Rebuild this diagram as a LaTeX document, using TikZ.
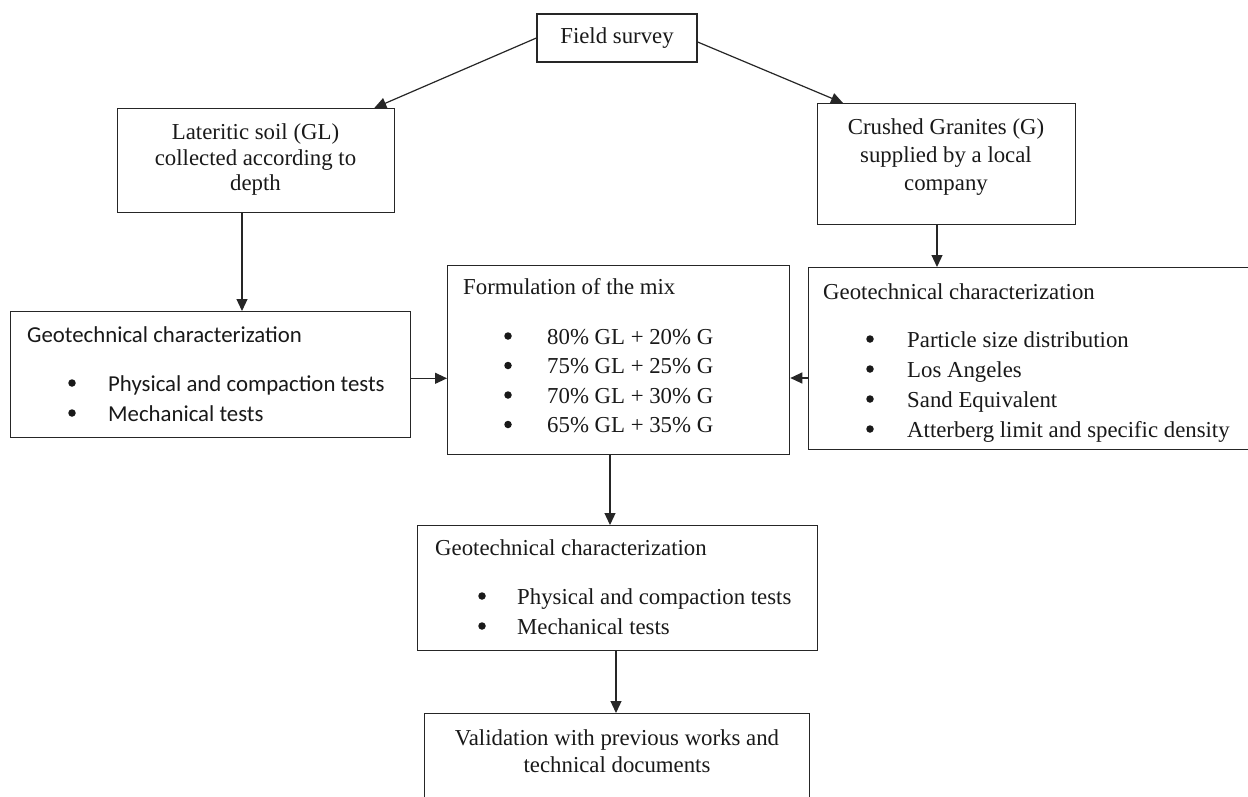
\documentclass[tikz,border=0pt]{standalone}
\usepackage{fontspec}
\setmainfont{Liberation Serif}
\newfontfamily\calfont{Carlito}
\usetikzlibrary{arrows.meta,calc}
\begin{document}
\begin{tikzpicture}[x=1pt,y=-1pt,
  box/.style={draw=black!85, line width=1.3pt, inner sep=0pt, anchor=north west},
  txt/.style={inner sep=0pt, text=black!90, font=\fontsize{22.8}{26}\selectfont, anchor=base west},
  ctr/.style={txt, anchor=base},
  ctxt/.style={txt, font=\calfont\fontsize{22.8}{28}\selectfont},
  bul/.style={circle, fill=black!90, inner sep=0pt, minimum size=7.5pt},
  arr/.style={draw=black!85, line width=1.2pt, -{Triangle[length=12pt,width=11pt]}},
]
\clip (0,0) rectangle (1248,796);
\fill[white] (0,0) rectangle (1248,796);

% boxes
\node[box, minimum width=160pt, minimum height=48pt, txt, anchor=center] (fs) at (617,38) {Field survey};
\node[box, minimum width=277pt, minimum height=104pt] (lat) at (117,108) {};
\node[box, minimum width=258pt, minimum height=121pt] (cg) at (817,103) {};
\node[box, minimum width=400pt, minimum height=126pt] (lg) at (10,311) {};
\node[box, minimum width=342pt, minimum height=189pt] (fm) at (447,265) {};
\node[box, minimum width=460pt, minimum height=182pt] (rg) at (808,267) {};
\node[box, minimum width=400pt, minimum height=125pt] (mg) at (417,525) {};
\node[box, minimum width=385pt, minimum height=100pt] (val) at (424,713) {};

% centred texts
\node[ctr] (lat1) at (255.5,139) {Lateritic soil (GL)};
\node[ctr] (lat2) at (255.5,165) {collected according to};
\node[ctr] (lat3) at (255.5,190) {depth};
\node[ctr] (cg1) at (946,134) {Crushed Granites (G)};
\node[ctr] (cg2) at (946,162) {supplied by a local};
\node[ctr] (cg3) at (946,190) {company};
\node[ctr] (val1) at (617,745) {Validation with previous works and};
\node[ctr] (val2) at (617,772) {technical documents};

% left geotechnical (Calibri)
\node[ctxt] (lgt) at (27,342) {Geotechnical characterization};
\foreach \t [count=\i] in {Physical and compaction tests, Mechanical tests}{
  \node[bul] (lgb\i) at (72,{383+30*(\i-1)}) {};
  \node[ctxt] (lgl\i) at (108,{391+30*(\i-1)}) {\t};
}

% formulation
\node[txt] (fmt) at (463,294) {Formulation of the mix};
\foreach \t [count=\i] in {{80\% GL + 20\% G},{75\% GL + 25\% G},{70\% GL + 30\% G},{65\% GL + 35\% G}}{
  \node[bul] (fmb\i) at (508,{336+29.5*(\i-1)}) {};
  \node[txt] (fml\i) at (547,{344+29.5*(\i-1)}) {\t};
}

% right geotechnical
\node[txt] (rgt) at (823,299) {Geotechnical characterization};
\foreach \t [count=\i] in {Particle size distribution, Los Angeles, Sand Equivalent, Atterberg limit and specific density}{
  \node[bul] (rgb\i) at (870,{339+30*(\i-1)}) {};
  \node[txt] (rgl\i) at (907,{347+30*(\i-1)}) {\t};
}

% middle geotechnical
\node[txt] (mgt) at (435,555) {Geotechnical characterization};
\foreach \t [count=\i] in {Physical and compaction tests, Mechanical tests}{
  \node[bul] (mgb\i) at (482,{596+30*(\i-1)}) {};
  \node[txt] (mgl\i) at (517,{604+30*(\i-1)}) {\t};
}

% connectors
\draw[arr] (fs.west) -- ($(lat.north east)+(-21,0)$);
\draw[arr] ($(fs.east)+(0,4)$) -- ($(cg.north west)+(26,0)$);
\coordinate (c1) at ($(lat.south west)+(125,0)$);
\draw[arr] (c1) -- (c1 |- lg.north);
\coordinate (c2) at ($(cg.south west)+(120,0)$);
\draw[arr] (c2) -- (c2 |- rg.north);
\coordinate (c3) at ($(lg.south east)+(0,-60)$);
\draw[arr] (c3) -- (c3 -| fm.west);
\coordinate (c4) at ($(rg.north west)+(0,111)$);
\draw[arr] (c4) -- (c4 -| fm.east);
\coordinate (c5) at ($(fm.south west)+(163,0)$);
\draw[arr] (c5) -- (c5 |- mg.north);
\coordinate (c6) at ($(mg.south west)+(199,0)$);
\draw[arr] (c6) -- (c6 |- val.north);
\end{tikzpicture}
\end{document}
